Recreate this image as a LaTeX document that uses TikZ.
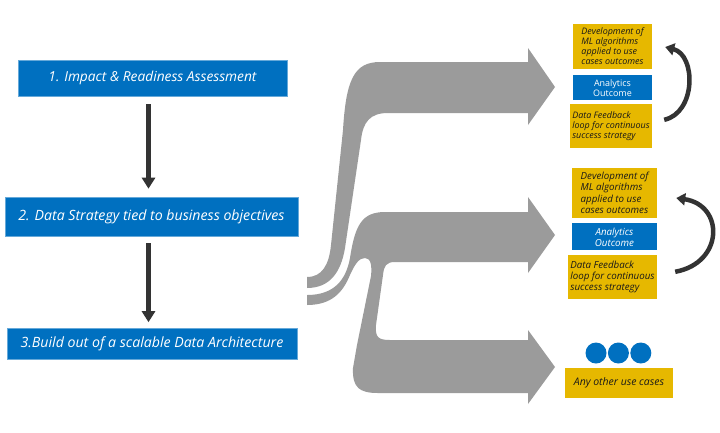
\documentclass[tikz,border=0pt]{standalone}
\usepackage{fontspec}
\setmainfont{Open Sans}
\usetikzlibrary{arrows.meta,positioning,calc}
\definecolor{azulcaja}{RGB}{0,112,192}
\definecolor{amarillo}{RGB}{230,184,0}
\definecolor{grisflujo}{RGB}{155,155,155}
\definecolor{grisflecha}{RGB}{51,51,51}

\begin{document}
\begin{tikzpicture}[
            x=1bp, y=-1bp,
            paso/.style={fill=azulcaja, draw=azulcaja!60!white, line width=0.6bp, text=white, inner sep=0pt, font=\fontsize{14.2}{16}\selectfont\itshape},
            caso/.style={fill=amarillo, inner sep=0pt, align=left, text=black!90, font=\fontsize{9}{10}\selectfont\itshape},
            salida/.style={fill=azulcaja, inner sep=0pt, align=center, text=white, font=\fontsize{9}{10}\selectfont},
            punto/.style={circle, fill=azulcaja, minimum size=21bp, inner sep=0pt},
            flecha/.style={-{Triangle[width=13bp,length=11bp]}, line width=5bp, draw=grisflecha},
            ciclo/.style={-{Triangle[width=12bp,length=9bp]}, line width=4.5bp, draw=grisflecha},
            flujo/.style={fill=grisflujo}
        ]
        \useasboundingbox (0,0) rectangle (720,432);

        % Pasos de la izquierda
        \node[paso, minimum width=269bp, minimum height=36bp, font=\fontsize{13.8}{15}\selectfont\itshape] (evaluacion) at (152.5,78)
        {1. Impact \& Readiness Assessment};
        \node[paso, minimum width=293bp, minimum height=39bp] (estrategia) at (151.5,216.5)
        {2. Data Strategy tied to business objectives};
        \node[paso, minimum width=290bp, minimum height=31bp] (arquitectura) at (152,344)
        {3.Build out of a scalable Data Architecture};

        % Flechas entre pasos
        \draw[flecha, shorten <=8bp, shorten >=8bp] ([xshift=-4bp]evaluacion.south) -- ([xshift=-4bp]evaluacion.south |- estrategia.north);
        \draw[flecha, shorten <=7bp, shorten >=6bp] ([xshift=-3bp]estrategia.south) -- ([xshift=-3bp]estrategia.south |- arquitectura.north);

        % Flujos grises hacia los casos de uso
        \fill[flujo] (307,277) .. controls (322,277) and (329,265) .. (331,245)
            -- (343,130) .. controls (346,80) and (354,62) .. (380,62)
            -- (528,62) -- (528,48) -- (555,87) -- (528,125) -- (528,113)
            -- (388,113) .. controls (370,113) and (363,122) .. (361,140)
            -- (345,248) .. controls (341,272) and (330,288) .. (307,288) -- cycle;
        \fill[flujo] (307,295) .. controls (334,295) and (346,280) .. (350,258)
            .. controls (355,225) and (362,212) .. (385,212)
            -- (528,212) -- (528,197) -- (555,235) -- (528,273) -- (528,262)
            -- (395,262) .. controls (386,262) and (384,266) .. (383,275)
            -- (376,325) .. controls (375,337) and (378,340) .. (390,340)
            -- (528,340) -- (528,330) -- (555,367) -- (528,404) -- (528,393)
            -- (378,393) .. controls (360,393) and (352,388) .. (353,368)
            -- (357,345) -- (371,276) .. controls (372,266) and (371,258) .. (365,258)
            .. controls (359,258) and (355,264) .. (350,275)
            .. controls (343,292) and (332,305) .. (307,305) -- cycle;

        % Primer caso de uso
        \node[caso, minimum width=79bp, minimum height=45bp] (desarrollo1) at (612.5,46.5)
        {Development of\\ML algorithms\\applied to use\\cases outcomes};
        \node[salida, minimum width=79bp, minimum height=25bp, below=6bp of desarrollo1] (analitica1)
        {Analytics\\Outcome};
        \node[caso, minimum width=82bp, minimum height=44bp, below=3bp of analitica1.south east, anchor=north east] (retro1)
        {Data Feedback\\loop for continuous\\success strategy};
        \draw[ciclo] ($(retro1.east)+(12,-6)$) .. controls ($(retro1.east)+(44,-13)$) and ($(desarrollo1.east)+(44,8.5)$) .. ($(desarrollo1.east)+(13,0.5)$);

        % Segundo caso de uso
        \node[caso, minimum width=85bp, minimum height=50bp, font=\fontsize{9.8}{11.5}\selectfont\itshape] (desarrollo2) at (614.5,193)
        {Development of\\ML algorithms\\applied to use\\cases outcomes};
        \node[salida, minimum width=85bp, minimum height=27bp, below=5bp of desarrollo2, font=\fontsize{9.8}{11}\selectfont\itshape] (analitica2)
        {Analytics\\Outcome};
        \node[caso, minimum width=89bp, minimum height=44bp, below=4bp of analitica2.south east, anchor=north east, font=\fontsize{9.8}{11}\selectfont\itshape] (retro2)
        {Data Feedback\\loop for continuous\\success strategy};
        \draw[ciclo] ($(retro2.east)+(18,-5)$) .. controls ($(retro2.east)+(67,-14)$) and ($(desarrollo2.east)+(67,12)$) .. ($(desarrollo2.east)+(19,5)$);

        % Otros casos de uso
        \node[punto] (punto1) at (596,353) {};
        \node[punto, right=1bp of punto1] (punto2) {};
        \node[punto, right=1bp of punto2] (punto3) {};
        \node[caso, minimum width=108bp, minimum height=30bp, font=\fontsize{10.5}{12}\selectfont\itshape] (otros) at (619,383)
        {Any other use cases};

    \end{tikzpicture}
\end{document}
